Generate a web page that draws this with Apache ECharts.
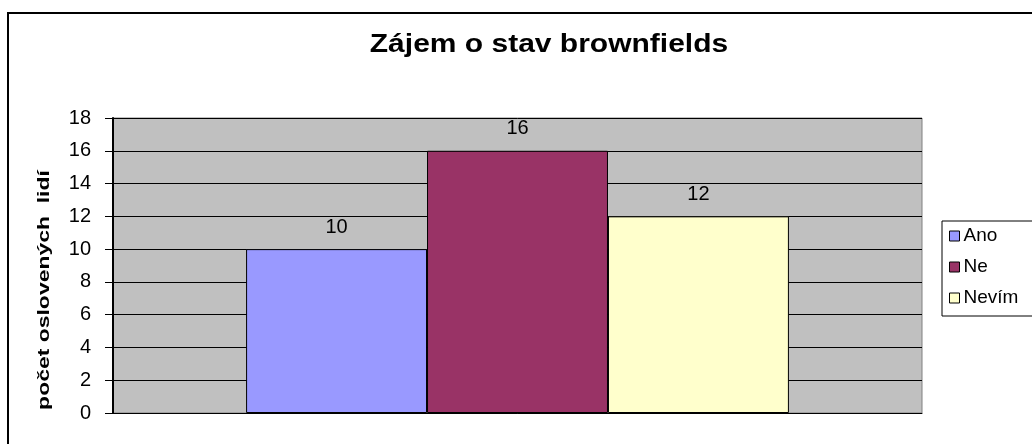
<!DOCTYPE html>
<html>
<head>
<meta charset="utf-8">
<script src="https://cdn.jsdelivr.net/npm/echarts@6/dist/echarts.min.js"></script>
<style>
html,body{margin:0;padding:0;background:#fff;}
#c{width:1032px;height:444px;}
</style>
</head>
<body>
<div id="c"></div>
<script>
const titleText = 'Zájem o stav brownfields';
const yAxisTitle = 'počet oslovených  lidí';
const categories = [''];
const seriesNames = ['Ano', 'Ne', 'Nevím'];
const seriesValues = [[10], [16], [12]];
const seriesColors = ['#9999FF', '#993366', '#FFFFCC'];
const yTicks = { min: 0, max: 18, interval: 2 };

const FONT = 'Liberation Sans, Arial, sans-serif';
const chart = echarts.init(document.getElementById('c'));

const series = seriesNames.map((name, i) => ({
  name: name,
  type: 'bar',
  data: seriesValues[i],
  barGap: '0%',
  barCategoryGap: '32.9%',
  itemStyle: { color: seriesColors[i], borderColor: '#000', borderWidth: 1 },
  label: { show: true, position: 'top', distance: 12, color: '#000', fontFamily: FONT, fontSize: 20 }
}));

chart.setOption({
  animation: false,
  backgroundColor: '#fff',
  grid: {
    left: 113, top: 118, width: 809, height: 295,
    show: true, backgroundColor: '#C0C0C0', borderColor: '#808080', borderWidth: 1
  },
  legend: {
    orient: 'vertical', left: 942, top: 221,
    data: seriesNames,
    icon: 'rect', itemWidth: 10, itemHeight: 10, itemGap: 11,
    padding: [5, 40, 8, 7],
    borderColor: '#000', borderWidth: 1, backgroundColor: '#fff',
    itemStyle: { borderColor: '#000', borderWidth: 1 },
    textStyle: { fontFamily: FONT, fontSize: 19, color: '#000', lineHeight: 20, padding: [0, 0, 0, -1] },
    selectedMode: false
  },
  xAxis: {
    type: 'category', data: categories,
    axisLine: { lineStyle: { color: '#000', width: 1 } },
    axisTick: { show: false }, axisLabel: { show: false }, splitLine: { show: false }
  },
  yAxis: {
    type: 'value', min: yTicks.min, max: yTicks.max, interval: yTicks.interval,
    axisLine: { show: true, lineStyle: { color: '#000', width: 2 } },
    axisTick: { show: true, inside: false, length: 8, lineStyle: { color: '#000', width: 1 } },
    axisLabel: { color: '#000', fontFamily: FONT, fontSize: 20, margin: 22 },
    splitLine: { show: true, lineStyle: { color: '#000', width: 1 } }
  },
  graphic: [
    { type: 'rect', shape: { x: 8, y: 13, width: 1100, height: 500 }, silent: true, z: -10,
      style: { fill: 'none', stroke: '#000', lineWidth: 2 } },
    { type: 'text', x: 549, y: 45, scaleX: 1.2, silent: true,
      style: { text: titleText, fontFamily: FONT, fontWeight: 'bold', fontSize: 25, fill: '#000',
        align: 'center', verticalAlign: 'middle' } },
    { type: 'text', x: 44, y: 290, rotation: Math.PI / 2, scaleX: 1.35, silent: true,
      style: { text: yAxisTitle, fontFamily: FONT, fontWeight: 'bold', fontSize: 17, fill: '#000',
        align: 'center', verticalAlign: 'middle' } }
  ],
  series: series
});
</script>
</body>
</html>
